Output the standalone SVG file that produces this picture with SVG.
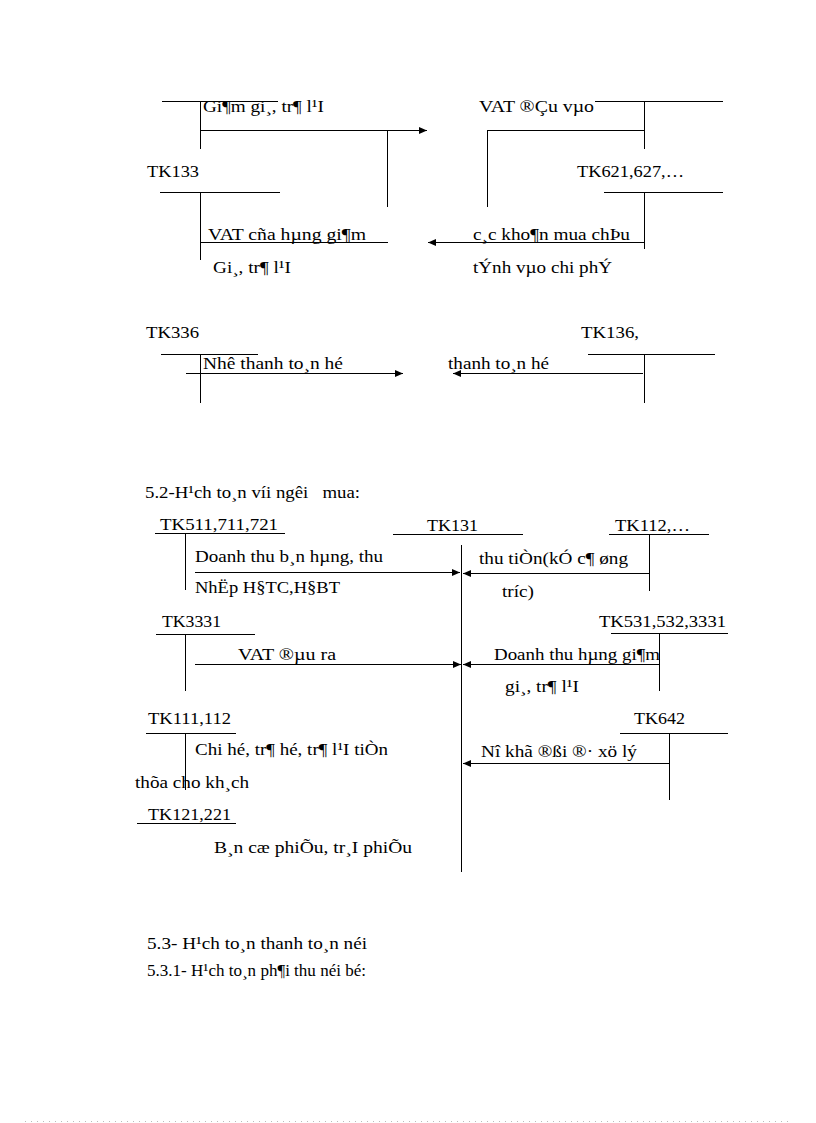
<svg xmlns="http://www.w3.org/2000/svg" width="816" height="1123" viewBox="0 0 816 1123">
<style>
text{font-family:"Liberation Serif","Times New Roman",serif;font-size:17px;fill:#000;white-space:pre}
line{stroke:#000;stroke-width:1}
.arr{marker-end:url(#ah)}
.dots{stroke:#bbb;stroke-dasharray:1 5}
</style>
<defs>
<marker id="ah" markerUnits="userSpaceOnUse" markerWidth="9" markerHeight="7" refX="8" refY="3.5" orient="auto">
<path d="M0,0 L8,3.5 L0,7 z" fill="#000"/>
</marker>
</defs>
<rect width="816" height="1123" fill="#fff"/>

<!-- Section top -->
<g id="acc-top-left">
<line x1="162" y1="101.5" x2="278" y2="101.5"/>
<line x1="200.5" y1="101" x2="200.5" y2="149"/>
<text x="203" y="112" textLength="121" lengthAdjust="spacingAndGlyphs">Gi¶m gi¸, tr¶ l¹I</text>
</g>
<g id="acc-tk133">
<text x="147" y="177" textLength="52" lengthAdjust="spacingAndGlyphs">TK133</text>
<line x1="160" y1="192.5" x2="280" y2="192.5"/>
<line x1="200.5" y1="192" x2="200.5" y2="260"/>
<text x="208" y="240" textLength="158" lengthAdjust="spacingAndGlyphs">VAT cña hµng gi¶m</text>
<text x="213" y="273" textLength="78" lengthAdjust="spacingAndGlyphs">Gi¸, tr¶ l¹I</text>
</g>
<g id="acc-top-right">
<text x="479" y="112" textLength="115" lengthAdjust="spacingAndGlyphs">VAT ®Çu vµo</text>
<line x1="595" y1="101.5" x2="723" y2="101.5"/>
<line x1="644.5" y1="101" x2="644.5" y2="149"/>
</g>
<g id="acc-tk621">
<text x="577" y="177" textLength="107" lengthAdjust="spacingAndGlyphs">TK621,627,…</text>
<line x1="604" y1="192.5" x2="723" y2="192.5"/>
<line x1="644.5" y1="192" x2="644.5" y2="249"/>
<text x="473" y="240" textLength="157" lengthAdjust="spacingAndGlyphs">c¸c kho¶n mua chÞu</text>
<text x="473" y="273" textLength="139" lengthAdjust="spacingAndGlyphs">tÝnh vµo chi phÝ</text>
</g>

<!-- Section TK336 / TK136 -->
<g id="acc-tk336">
<text x="146" y="338" textLength="53" lengthAdjust="spacingAndGlyphs">TK336</text>
<line x1="161" y1="354.5" x2="258" y2="354.5"/>
<line x1="200.5" y1="354" x2="200.5" y2="403"/>
<text x="203" y="369" textLength="140" lengthAdjust="spacingAndGlyphs">Nhê thanh to¸n hé</text>
</g>
<g id="acc-tk136">
<text x="581" y="338" textLength="58" lengthAdjust="spacingAndGlyphs">TK136,</text>
<line x1="588" y1="354.5" x2="715" y2="354.5"/>
<line x1="644.5" y1="354" x2="644.5" y2="403"/>
<text x="448" y="369" textLength="101" lengthAdjust="spacingAndGlyphs">thanh to¸n hé</text>
</g>

<!-- Section 5.2 -->
<g id="heading-52">
<text x="145" y="498" textLength="215" lengthAdjust="spacingAndGlyphs">5.2-H¹ch to¸n víi ngêi   mua:</text>
</g>
<g id="acc-tk511">
<text x="160" y="530" textLength="118" lengthAdjust="spacingAndGlyphs">TK511,711,721</text>
<line x1="155" y1="533.5" x2="285" y2="533.5"/>
<line x1="185.5" y1="533" x2="185.5" y2="590"/>
<text x="195" y="562" textLength="188" lengthAdjust="spacingAndGlyphs">Doanh thu b¸n hµng, thu</text>
<text x="195" y="593" textLength="145" lengthAdjust="spacingAndGlyphs">NhËp H§TC,H§BT</text>
</g>
<g id="acc-tk131">
<text x="427" y="531" textLength="51" lengthAdjust="spacingAndGlyphs">TK131</text>
<line x1="393" y1="534.5" x2="523" y2="534.5"/>
<line x1="461.5" y1="545" x2="461.5" y2="872"/>
</g>
<g id="acc-tk112">
<text x="615" y="531" textLength="75" lengthAdjust="spacingAndGlyphs">TK112,…</text>
<line x1="609" y1="534.5" x2="709" y2="534.5"/>
<line x1="649.5" y1="534" x2="649.5" y2="591"/>
<text x="479" y="564" textLength="149" lengthAdjust="spacingAndGlyphs">thu tiÒn(kÓ c¶ øng</text>
<text x="502" y="597" textLength="32" lengthAdjust="spacingAndGlyphs">tríc)</text>
</g>
<g id="acc-tk3331">
<text x="162" y="627" textLength="59" lengthAdjust="spacingAndGlyphs">TK3331</text>
<line x1="156" y1="634.5" x2="255" y2="634.5"/>
<line x1="185.5" y1="634" x2="185.5" y2="691"/>
<text x="238" y="660" textLength="98" lengthAdjust="spacingAndGlyphs">VAT ®µu ra</text>
</g>
<g id="acc-tk531">
<text x="599" y="627" textLength="127" lengthAdjust="spacingAndGlyphs">TK531,532,3331</text>
<line x1="611" y1="633.5" x2="728" y2="633.5"/>
<line x1="659.5" y1="633" x2="659.5" y2="691"/>
<text x="494" y="660" textLength="166" lengthAdjust="spacingAndGlyphs">Doanh thu hµng gi¶m</text>
<text x="505" y="692" textLength="74" lengthAdjust="spacingAndGlyphs">gi¸, tr¶ l¹I</text>
</g>
<g id="acc-tk111">
<text x="148" y="724" textLength="83" lengthAdjust="spacingAndGlyphs">TK111,112</text>
<line x1="146" y1="733.5" x2="236" y2="733.5"/>
<line x1="185.5" y1="733" x2="185.5" y2="790"/>
<text x="195" y="755" textLength="193" lengthAdjust="spacingAndGlyphs">Chi hé, tr¶ hé, tr¶ l¹I tiÒn</text>
<text x="135" y="788" textLength="114" lengthAdjust="spacingAndGlyphs">thõa cho kh¸ch</text>
</g>
<g id="acc-tk121">
<text x="148" y="820" textLength="83" lengthAdjust="spacingAndGlyphs">TK121,221</text>
<line x1="137" y1="823.5" x2="236" y2="823.5"/>
<text x="214" y="853" textLength="198" lengthAdjust="spacingAndGlyphs">B¸n cæ phiÕu, tr¸I phiÕu</text>
</g>
<g id="acc-tk642">
<text x="634" y="724" textLength="51" lengthAdjust="spacingAndGlyphs">TK642</text>
<line x1="620" y1="733.5" x2="728" y2="733.5"/>
<line x1="669.5" y1="733" x2="669.5" y2="800"/>
<text x="481" y="757" textLength="156" lengthAdjust="spacingAndGlyphs">Nî khã ®ßi ®· xö lý</text>
</g>

<g id="heading-53">
<text x="147" y="949" textLength="220" lengthAdjust="spacingAndGlyphs">5.3- H¹ch to¸n thanh to¸n néi</text>
<text x="147" y="976" textLength="219" lengthAdjust="spacingAndGlyphs">5.3.1- H¹ch to¸n ph¶i thu néi bé:</text>
</g>

<!-- Connectors -->
<g id="connectors">
<line class="arr" x1="200.5" y1="130.5" x2="427" y2="130.5"/>
<line x1="387.5" y1="130" x2="387.5" y2="207"/>
<line x1="487" y1="130.5" x2="644.5" y2="130.5"/>
<line x1="487.5" y1="130" x2="487.5" y2="207"/>
<line x1="200.5" y1="242.5" x2="388" y2="242.5"/>
<line class="arr" x1="644.5" y1="242.5" x2="428" y2="242.5"/>
<line class="arr" x1="186" y1="373.5" x2="403" y2="373.5"/>
<line class="arr" x1="643" y1="373.5" x2="453" y2="373.5"/>
<line class="arr" x1="195" y1="572.5" x2="460" y2="572.5"/>
<line class="arr" x1="649.5" y1="573.5" x2="463" y2="573.5"/>
<line class="arr" x1="195" y1="664.5" x2="461" y2="664.5"/>
<line class="arr" x1="659.5" y1="664.5" x2="463" y2="664.5"/>
<line class="arr" x1="669.5" y1="763.5" x2="463" y2="763.5"/>
</g>

<line class="dots" x1="25" y1="1121.5" x2="791" y2="1121.5"/>
</svg>
